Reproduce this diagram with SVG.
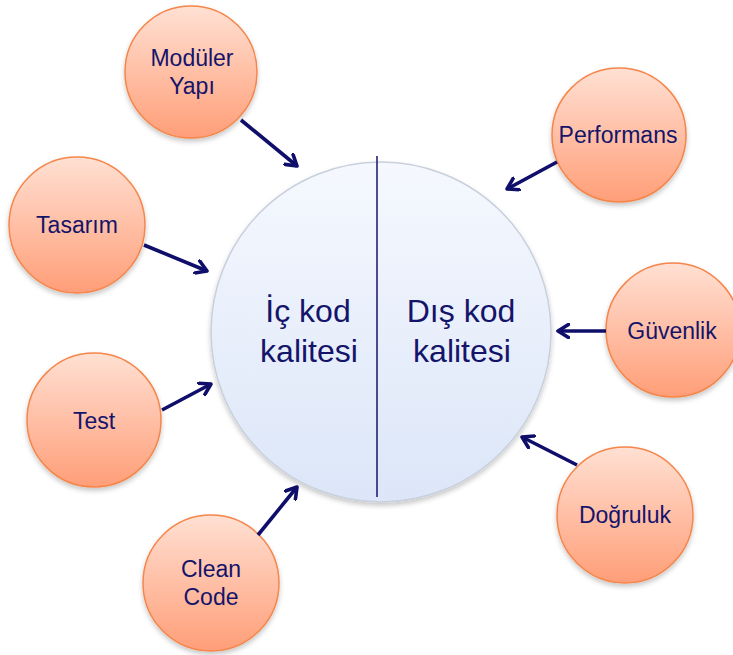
<svg xmlns="http://www.w3.org/2000/svg" width="733" height="655" viewBox="0 0 733 655">
  <defs>
    <linearGradient id="orangeFill" x1="0" y1="0" x2="0" y2="1">
      <stop offset="0" stop-color="#ffe0d3"/>
      <stop offset="1" stop-color="#ff9e78"/>
    </linearGradient>
    <linearGradient id="blueFill" x1="0" y1="0" x2="0" y2="1">
      <stop offset="0" stop-color="#f5f8fe"/>
      <stop offset="1" stop-color="#dce6f8"/>
    </linearGradient>
    <filter id="shadow" x="-20%" y="-20%" width="140%" height="150%">
      <feDropShadow dx="0" dy="3" stdDeviation="2.5" flood-color="#000" flood-opacity="0.22"/>
    </filter>
    <marker id="chevron" viewBox="0 0 16 16" refX="12" refY="8" markerWidth="16" markerHeight="16" markerUnits="userSpaceOnUse" orient="auto">
      <path d="M1.5,1.5 L12,8 L1.5,14.5" fill="none" stroke="#0f0f6b" stroke-width="3.6" stroke-linecap="round" stroke-linejoin="round"/>
    </marker>
  </defs>
  <style>
    .small { fill: url(#orangeFill); stroke: #f5864a; stroke-width: 1.5; filter: url(#shadow); }
    .big { fill: url(#blueFill); stroke: #c9d0dc; stroke-width: 1.5; filter: url(#shadow); }
    .lbl { font-family: "Liberation Sans", Arial, sans-serif; font-size: 23px; fill: #14146a; text-anchor: middle; }
    .main { font-family: "Liberation Sans", Arial, sans-serif; font-size: 32px; fill: #14146a; text-anchor: middle; }
    .arrow { stroke: #0f0f6b; stroke-width: 3.6; fill: none; marker-end: url(#chevron); }
  </style>

  <!-- central quality circle split into inner / outer halves -->
  <g id="center">
    <circle class="big" cx="381" cy="332" r="170"/>
    <line x1="377" y1="156" x2="377" y2="497" stroke="#14146a" stroke-width="1.5"/>
    <text class="main" x="308" y="322">İç kod</text>
    <text class="main" x="309" y="362">kalitesi</text>
    <text class="main" x="461" y="322">Dış kod</text>
    <text class="main" x="462" y="362">kalitesi</text>
  </g>

  <g id="moduler">
    <circle class="small" cx="191" cy="72" r="66"/>
    <text class="lbl" x="192" y="66">Modüler</text>
    <text class="lbl" x="192" y="94">Yapı</text>
  </g>
  <g id="tasarim">
    <circle class="small" cx="77" cy="225" r="68"/>
    <text class="lbl" x="77" y="233">Tasarım</text>
  </g>
  <g id="test">
    <circle class="small" cx="94" cy="420" r="67"/>
    <text class="lbl" x="94" y="429">Test</text>
  </g>
  <g id="cleancode">
    <circle class="small" cx="211" cy="583" r="68"/>
    <text class="lbl" x="211" y="577">Clean</text>
    <text class="lbl" x="211" y="605">Code</text>
  </g>
  <g id="performans">
    <circle class="small" cx="619" cy="135" r="67"/>
    <text class="lbl" x="618" y="143">Performans</text>
  </g>
  <g id="guvenlik">
    <circle class="small" cx="673" cy="330" r="67"/>
    <text class="lbl" x="672" y="339">Güvenlik</text>
  </g>
  <g id="dogruluk">
    <circle class="small" cx="625" cy="515" r="68"/>
    <text class="lbl" x="625" y="523">Doğruluk</text>
  </g>

  <!-- connectors pointing into the central circle -->
  <g id="connectors">
    <line class="arrow" x1="241" y1="120" x2="297" y2="166"/>
    <line class="arrow" x1="144" y1="245" x2="207" y2="271"/>
    <line class="arrow" x1="162" y1="410" x2="211" y2="384"/>
    <line class="arrow" x1="258" y1="535" x2="297" y2="487"/>
    <line class="arrow" x1="557" y1="162" x2="507" y2="189"/>
    <line class="arrow" x1="606" y1="331" x2="558" y2="331"/>
    <line class="arrow" x1="577" y1="465" x2="522" y2="437"/>
  </g>
</svg>
